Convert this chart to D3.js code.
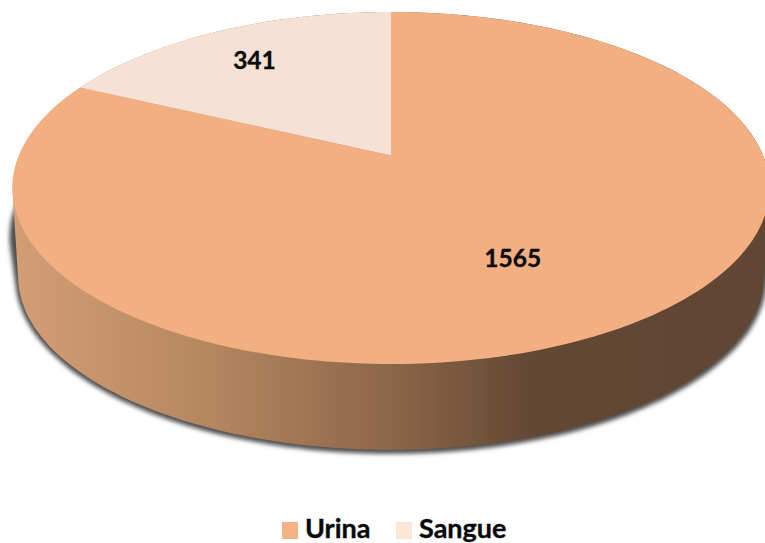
<!DOCTYPE html>
<html>
<head>
<meta charset="utf-8">
<script src="https://cdn.jsdelivr.net/npm/d3@7"></script>
<style>
  html, body { margin: 0; padding: 0; background: #fff; }
  svg { display: block; }
  text { font-family: Lato, sans-serif; font-weight: 700; fill: #0a0a0a; stroke: #0a0a0a; stroke-width: 0.35px; }
</style>
</head>
<body>
<div id="vis"></div>
<script>
var categories = ['Urina', 'Sangue'];
var values = [1565, 341];

var width = 765;
var height = 543;

var colors = d3.scaleOrdinal().domain(categories).range(['#F2AF82', '#F6E2D5']);
var legendColors = d3.scaleOrdinal().domain(categories).range(['#F4B183', '#FBE5D6']);

// the disc is drawn in perspective, so the apex sits above the middle of the ellipse
var cx = 391, cy = 155.5, rx = 372, ry = 170, tilt = -0.1846;
var depth = 89, shrink = 0.985;

var project = function(a, r, dy, s) {
    var u = r * Math.sin(a);
    var v = -r * Math.cos(a);
    var w = 1 + tilt * v;
    return [cx + s * rx * u / w, cy + dy + s * ry * v / w];
};

var rim = function(a0, a1, dy, s) {
    return d3.range(0, 241).map(function(i) {
        return project(a0 + (a1 - a0) * i / 240, 1, dy, s);
    });
};

var line = d3.line();

var svg = d3.select('#vis')
            .append('svg')
            .attr('width', width)
            .attr('height', height);

var defs = svg.append('defs');

var grad = defs.append('linearGradient')
               .attr('id', 'sideGrad')
               .attr('gradientUnits', 'userSpaceOnUse')
               .attr('x1', 12).attr('x2', 765).attr('y1', 0).attr('y2', 0);
[[0, '#D49E75'], [0.25, '#B78860'], [0.5, '#8D674A'], [0.69, '#634834'], [1, '#604633']].forEach(function(s) {
    grad.append('stop').attr('offset', s[0]).attr('stop-color', s[1]);
});

defs.append('filter')
    .attr('id', 'blur')
    .attr('x', '-5%').attr('y', '-5%').attr('width', '110%').attr('height', '110%')
    .append('feGaussianBlur')
    .attr('stdDeviation', 2.2);

////////////////////////////////////Side and shadow////////////////////////////////////
var full = rim(0, 2 * Math.PI, 0, 1);
var hull = d3.polygonHull(full.concat(rim(0, 2 * Math.PI, depth, shrink)));

// shadow only shows beside and below the side wall, never above the top face
var shadowHull = d3.polygonHull(rim(0, 2 * Math.PI, 48, 1).concat(rim(0, 2 * Math.PI, depth, shrink)));

svg.append('path')
    .attr('d', line(shadowHull) + 'Z')
    .attr('transform', 'translate(0, 1)')
    .attr('fill', '#505050')
    .attr('stroke', '#505050')
    .attr('stroke-width', 6)
    .attr('filter', 'url(#blur)');

svg.append('path')
    .attr('d', line(hull) + 'Z')
    .attr('fill', 'url(#sideGrad)');

////////////////////////////////////Top face////////////////////////////////////
var pie = d3.pie().sort(null).value(function(d) { return d; });
var arcs = pie(values);

svg.append('g')
    .selectAll('path')
    .data(arcs)
    .enter()
    .append('path')
    .attr('d', function(d) {
        return line([[cx, cy]].concat(rim(d.startAngle, d.endAngle, 0, 1))) + 'Z';
    })
    .attr('fill', function(d, i) { return colors(categories[i]); });

// small angle nudge, labels are not quite on the slice middles
var labelRadius = [0.617, 0.75];
var labelNudge = [3.7, -0.9];

svg.append('g')
    .selectAll('text')
    .data(arcs)
    .enter()
    .append('text')
    .attr('transform', function(d, i) {
        var a = (d.startAngle + d.endAngle) / 2 + labelNudge[i] * Math.PI / 180;
        var p = project(a, labelRadius[i], 0, 1);
        return 'translate(' + p[0] + ', ' + p[1] + ')';
    })
    .attr('text-anchor', 'middle')
    .attr('dy', '0.36em')
    .style('font-size', '24.5px')
    .text(function(d) { return d.data; });

////////////////////////////////////Legend////////////////////////////////////
var legendX = d3.scaleOrdinal().domain(categories).range([282, 396]);

var legend = svg.append('g')
                .selectAll('g')
                .data(categories)
                .enter()
                .append('g')
                .attr('transform', function(d) { return 'translate(' + legendX(d) + ', 522)'; });

legend.append('rect')
    .attr('width', 16)
    .attr('height', 17)
    .attr('fill', function(d) { return legendColors(d); });

legend.append('text')
    .attr('x', 23)
    .attr('y', 16)
    .style('font-size', '27px')
    .text(function(d) { return d; });
</script>
</body>
</html>
